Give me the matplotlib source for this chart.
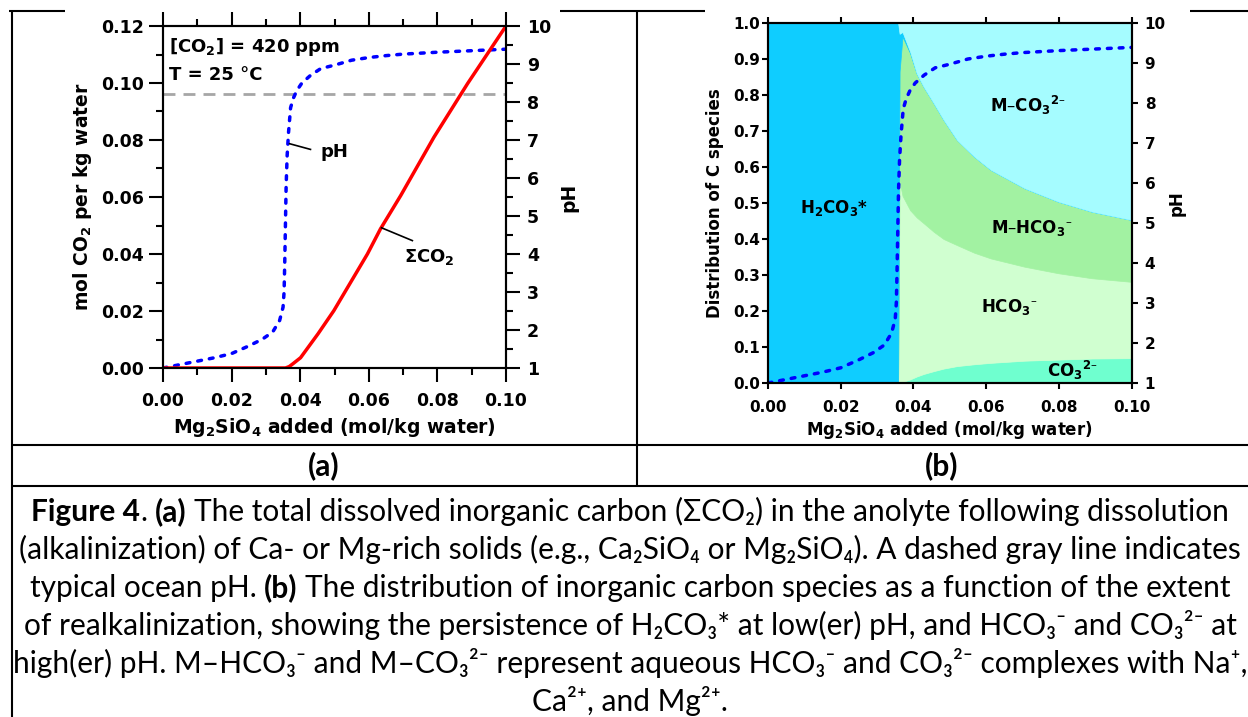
import numpy as np
import matplotlib
matplotlib.use("Agg")
import matplotlib.pyplot as plt
from matplotlib.lines import Line2D
from matplotlib.ticker import MultipleLocator, FormatStrFormatter

W, H = 1248, 717

# pH titration curve -- same curve is drawn in both panels
PH_X = [0.000, 0.005, 0.010, 0.015, 0.020, 0.025, 0.029, 0.032, 0.034, 0.035,
        0.0353, 0.0355, 0.0357, 0.0359, 0.0362, 0.0366, 0.0372, 0.038, 0.039,
        0.0405, 0.043, 0.046, 0.050, 0.055, 0.060, 0.065, 0.070, 0.080, 0.090, 0.100]
PH = [1.00, 1.09, 1.18, 1.27, 1.38, 1.58, 1.76, 1.95, 2.25, 2.60,
      3.00, 3.80, 4.80, 5.80, 6.60, 7.20, 7.85, 8.10, 8.30,
      8.50, 8.70, 8.88, 8.97, 9.10, 9.17, 9.22, 9.26, 9.31, 9.35, 9.39]

# total dissolved CO2 (left axis of panel a)
CO2_X = [0.000, 0.0357, 0.0368, 0.0380, 0.0401, 0.0452, 0.0498, 0.0596, 0.0634,
         0.0693, 0.0790, 0.0888, 0.1000]
CO2_TOTAL = [0.000, 0.000, 0.0005, 0.0016, 0.0036, 0.0120, 0.0201, 0.0400, 0.0488,
             0.0605, 0.0810, 0.0998, 0.1200]

OCEAN_PH = 8.2

# carbon species fractions, panel (b) -- stacked bottom -> top
SPEC_X = [0.000, 0.0358, 0.0362, 0.0370, 0.0391, 0.0409, 0.0428, 0.0456,
          0.0483, 0.0520, 0.0567, 0.0613, 0.0706, 0.0798, 0.0891, 0.1000]
FRAC_CO3 = [0, 0, 0, 0.003, 0.010, 0.018, 0.025, 0.033,
            0.040, 0.047, 0.052, 0.056, 0.062, 0.065, 0.068, 0.069]
FRAC_HCO3 = [0, 0, 0.560, 0.517, 0.470, 0.442, 0.419, 0.387,
             0.360, 0.336, 0.310, 0.290, 0.261, 0.240, 0.223, 0.212]
FRAC_M_HCO3 = [0, 0, 0.305, 0.442, 0.436, 0.400, 0.379, 0.357,
               0.331, 0.292, 0.267, 0.246, 0.218, 0.199, 0.185, 0.172]
FRAC_H2CO3 = [1, 1, 0.105, 0.013, 0.004, 0, 0, 0,
              0, 0, 0, 0, 0, 0, 0, 0]
FRAC_M_CO3 = [0, 0, 0.030, 0.025, 0.080, 0.140, 0.177, 0.223,
              0.269, 0.325, 0.371, 0.408, 0.459, 0.496, 0.524, 0.547]

SPECIES_COLORS = ["#6FFFCF", "#D0FFD0", "#A2F2A2", "#0FCDFF", "#A5FCFF"]

CAPTION_FONT = ["Lato", "DejaVu Sans"]
CAPTION = [
    [("Figure 4", True), (". ", False), ("(a)", True),
     (" The total dissolved inorganic carbon (\u03a3CO\u2082) in the anolyte following dissolution", False)],
    [("(alkalinization) of Ca- or Mg-rich solids (e.g., Ca\u2082SiO\u2084 or Mg\u2082SiO\u2084). "
      "A dashed gray line indicates", False)],
    [("typical ocean pH. ", False), ("(b)", True),
     (" The distribution of inorganic carbon species as a function of the extent", False)],
    [("of realkalinization, showing the persistence of H\u2082CO\u2083* at low(er) pH, "
      "and HCO\u2083\u207b and CO\u2083\u00b2\u207b at", False)],
    [("high(er) pH. M\u2013HCO\u2083\u207b and M\u2013CO\u2083\u00b2\u207b represent aqueous "
      "HCO\u2083\u207b and CO\u2083\u00b2\u207b complexes with Na\u207a,", False)],
    [("Ca\u00b2\u207a, and Mg\u00b2\u207a.", False)],
]
CAPTION_BASELINES = [521, 559, 597, 635, 673, 711]


def box(l, t, r, b):
    """pixel box (left, top, right, bottom) -> figure fraction rect"""
    return [l / W, 1 - b / H, (r - l) / W, (b - t) / H]


def fig_line(fig, x0, y0, x1, y1, lw=1.5):
    fig.add_artist(Line2D([x0 / W, x1 / W], [1 - y0 / H, 1 - y1 / H],
                          transform=fig.transFigure, color="black", lw=lw,
                          solid_capstyle="butt"))


def text_width(fig, renderer, s, size, bold):
    t = fig.text(0, 0, s, fontsize=size, family=CAPTION_FONT,
                 weight="bold" if bold else "normal")
    w = t.get_window_extent(renderer=renderer).width
    t.remove()
    return w


def draw_caption_line(fig, renderer, segments, y_px, size, x_center=630):
    space = (text_width(fig, renderer, "a a", size, False)
             - text_width(fig, renderer, "aa", size, False))
    pieces, total = [], 0.0
    for s, bold in segments:
        lead = (len(s) - len(s.lstrip(" "))) * space
        trail = (len(s) - len(s.rstrip(" "))) * space
        core = s.strip(" ")
        w = text_width(fig, renderer, core, size, bold)
        pieces.append((core, bold, lead, w, trail))
        total += lead + w + trail
    x = x_center - total / 2
    for core, bold, lead, w, trail in pieces:
        x += lead
        fig.text(x / W, 1 - y_px / H, core, fontsize=size, family=CAPTION_FONT,
                 weight="bold" if bold else "normal", ha="left", va="baseline")
        x += w + trail


def panel_a(fig):
    ax = fig.add_axes(box(163, 26, 506, 368))
    axr = ax.twinx()

    # gray = typical ocean pH, then the pH curve on the right axis
    axr.axhline(OCEAN_PH, color="#A6A6A6", lw=2, ls=(0, (4.3, 2.9)))
    axr.plot(PH_X, PH, color="#0000FF", lw=2.5, ls=(0, (1.1, 2.3)),
             dash_capstyle="round")
    axr.set_ylim(1, 10)
    axr.yaxis.set_major_locator(MultipleLocator(1))
    axr.yaxis.set_minor_locator(MultipleLocator(0.5))
    axr.tick_params(which="both", direction="out", width=1.5, labelsize=12.5, pad=5)
    axr.tick_params(which="major", length=10)
    axr.tick_params(which="minor", length=5)
    axr.set_ylabel("pH", fontsize=13.5, rotation=90, va="center")
    axr.yaxis.set_label_coords(1.184, 0.5)

    # red line sits above the twin axis
    ax.set_zorder(axr.get_zorder() + 1)
    ax.patch.set_visible(False)
    ax.plot(CO2_X, CO2_TOTAL, color="#FF0000", lw=2.5)
    ax.set_xlim(0, 0.10)
    ax.set_ylim(0, 0.12)
    ax.xaxis.set_major_locator(MultipleLocator(0.02))
    ax.xaxis.set_minor_locator(MultipleLocator(0.01))
    ax.yaxis.set_major_locator(MultipleLocator(0.02))
    ax.yaxis.set_minor_locator(MultipleLocator(0.01))
    ax.xaxis.set_major_formatter(FormatStrFormatter("%.2f"))
    ax.yaxis.set_major_formatter(FormatStrFormatter("%.2f"))
    ax.tick_params(which="both", direction="out", top=True, width=1.5, labelsize=12.5)
    ax.tick_params(which="major", length=10)
    ax.tick_params(which="minor", length=5)
    ax.tick_params(axis="x", pad=7)
    ax.tick_params(axis="y", pad=4)

    ax.set_xlabel("Mg$_2$SiO$_4$ added (mol/kg water)", fontsize=13.5, va="center")
    ax.xaxis.set_label_coords(0.5, -0.175)
    ax.set_ylabel("mol CO$_2$ per kg water", fontsize=13.5, va="center")
    ax.yaxis.set_label_coords(-0.236, 0.5)

    ax.text(0.0018, 0.1110, "[CO$_2$] = 420 ppm", fontsize=13, va="baseline")
    ax.text(0.0018, 0.1012, "T = 25 \u00b0C", fontsize=13, va="baseline")
    ax.plot([0.0369, 0.0430], [0.0787, 0.0767], color="black", lw=1.2)
    ax.text(0.0459, 0.0741, "pH", fontsize=13, va="baseline")
    ax.plot([0.0637, 0.0727], [0.0492, 0.0447], color="black", lw=1.2)
    ax.text(0.0702, 0.0371, "\u03a3CO$_2$", fontsize=13, va="baseline")


def panel_b(fig):
    ax = fig.add_axes(box(768, 23, 1131.5, 383))
    polys = ax.stackplot(SPEC_X, FRAC_CO3, FRAC_HCO3, FRAC_M_HCO3, FRAC_H2CO3,
                         FRAC_M_CO3, colors=SPECIES_COLORS, lw=0.5)
    for p in polys:
        p.set_edgecolor(p.get_facecolor())
    ax.set_xlim(0, 0.10)
    ax.set_ylim(0, 1.0)
    ax.xaxis.set_major_locator(MultipleLocator(0.02))
    ax.yaxis.set_major_locator(MultipleLocator(0.1))
    ax.xaxis.set_major_formatter(FormatStrFormatter("%.2f"))
    ax.yaxis.set_major_formatter(FormatStrFormatter("%.1f"))
    ax.tick_params(direction="out", top=True, width=1.5, length=4.5, labelsize=11)
    ax.tick_params(axis="x", pad=8)
    ax.tick_params(axis="y", pad=1)
    ax.set_xlabel("Mg$_2$SiO$_4$ added (mol/kg water)", fontsize=12, va="center")
    ax.xaxis.set_label_coords(0.5, -0.131)
    ax.set_ylabel("Distribution of C species", fontsize=12, va="center")
    ax.yaxis.set_label_coords(-0.146, 0.5)

    lbl = dict(fontsize=12, ha="center", va="baseline")
    ax.text(0.0181, 0.471, "H$_2$CO$_3$*", **lbl)
    ax.text(0.0715, 0.754, "M\u2013CO$_3$$^{2\u2013}$", **lbl)
    ax.text(0.0726, 0.416, "M\u2013HCO$_3$$^{\u2013}$", **lbl)
    ax.text(0.0664, 0.198, "HCO$_3$$^{\u2013}$", **lbl)
    ax.text(0.0837, 0.018, "CO$_3$$^{2\u2013}$", **lbl)

    axr = ax.twinx()
    axr.plot(PH_X, PH, color="#0000FF", lw=2.5, ls=(0, (1.1, 2.3)),
             dash_capstyle="round")
    axr.set_ylim(1, 10)
    axr.yaxis.set_major_locator(MultipleLocator(1))
    axr.tick_params(direction="out", width=1.5, length=4.5, labelsize=11, pad=5)
    axr.set_ylabel("pH", fontsize=12, rotation=90, va="center")
    axr.yaxis.set_label_coords(1.125, 0.5)


def frame_and_caption(fig):
    # table grid around the two panels
    for x0, x1 in [(9, 65), (560, 705), (1190, 1248)]:
        fig_line(fig, x0, 10.5, x1, 10.5)
    fig_line(fig, 11.5, 10, 11.5, 717)
    fig_line(fig, 637, 10, 637, 486)
    fig_line(fig, 11, 445, 1248, 445)
    fig_line(fig, 11, 486, 1248, 486)

    renderer = fig.canvas.get_renderer()
    # fit caption size so the widest line matches the reference
    size = 20.5 * 1222 / text_width(fig, renderer, CAPTION[1][0][0], 20.5, False)

    fig.text(324 / W, 1 - 466 / H, "(a)", fontsize=size, family=CAPTION_FONT,
             weight="bold", ha="center", va="center")
    fig.text(942 / W, 1 - 466 / H, "(b)", fontsize=size, family=CAPTION_FONT,
             weight="bold", ha="center", va="center")

    for segs, y in zip(CAPTION, CAPTION_BASELINES):
        draw_caption_line(fig, renderer, segs, y, size)


if __name__ == "__main__":
    plt.rcParams.update({
        "font.family": "DejaVu Sans",
        "font.weight": "bold",
        "axes.labelweight": "bold",
        "mathtext.default": "bf",
        "axes.linewidth": 1.5,
    })

    fig = plt.figure(figsize=(W / 100, H / 100), dpi=100)
    panel_a(fig)
    panel_b(fig)
    frame_and_caption(fig)

    fig.savefig("out.png", dpi=100, facecolor="white")
